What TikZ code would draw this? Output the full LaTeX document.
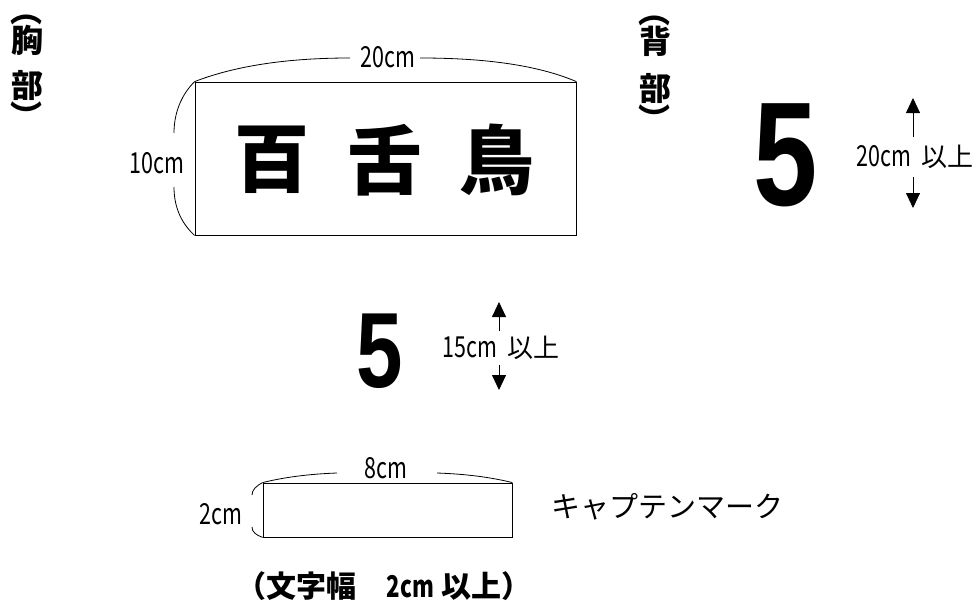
\documentclass[tikz,border=0pt]{standalone}
\usepackage{fontspec}
\usetikzlibrary{arrows.meta}
\newfontfamily\gothic{Noto Sans CJK JP}
\newfontfamily\narrowfont[FakeStretch=0.74]{Noto Sans CJK JP}
\newfontfamily\numfont[FakeStretch=0.78]{Liberation Sans}
\tikzset{
  vchar/.style = {font=\gothic\bfseries\fontsize{32}{32}\selectfont, inner sep=0pt},
  bigchar/.style = {font=\gothic\bfseries\fontsize{75}{75}\selectfont, inner sep=0pt},
  size/.style = {font=\narrowfont\fontsize{29}{31}\selectfont, inner sep=0pt},
  number/.style = {font=\numfont\bfseries\fontsize{#1}{#1}\selectfont, inner sep=0pt},
  label/.style = {font=\gothic\fontsize{29}{31}\selectfont, inner sep=0pt},
  note/.style = {font=\gothic\bfseries\fontsize{30}{32}\selectfont, inner sep=0pt},
  plate/.style = {draw, inner sep=0pt}
}
\tikzset{>={Triangle[length=15pt,width=14pt]}}
\newcommand{\ijou}{{\gothic\fontsize{26}{28}\selectfont 以上}}

\begin{document}
\begin{tikzpicture}[x=1pt,y=-1pt,line width=0.8pt]
    \useasboundingbox (0,0) rectangle (980,602);
    \node[vchar] (chesto) at (26,20) {︵};
    \node[vchar] (chesta) at (27,40) {胸};
    \node[vchar] (chestb) at (27,85) {部};
    \node[vchar] (chestc) at (26,115) {︶};
    \node[vchar] (backo) at (654,21) {︵};
    \node[vchar] (backa) at (655,41) {背};
    \node[vchar] (backb) at (655,88) {部};
    \node[vchar] (backc) at (654,118) {︶};

    \node[plate, minimum width=381pt, minimum height=153pt] (chest) at (385.5,158.5) {};
    \foreach \ch/\x [count=\i] in {百/272,舌/385,鳥/497}
        \node[bigchar] (name\i) at (\x,160) {\ch};
    \node[size] (w20) at (388,57) {20cm};
    \node[size] (h10) at (157,163) {10cm};
    \coordinate (w20l) at (350,58);
    \coordinate (w20r) at (420,58);
    \coordinate (h10t) at (174,133);
    \coordinate (h10b) at (174,187);
    \draw (chest.north west) .. controls (240,64) and (295,58) .. (w20l);
    \draw (w20r) .. controls (480,58) and (535,64) .. (chest.north east);
    \draw (chest.north west) .. controls (182,94) and (174,112) .. (h10t);
    \draw (h10b) .. controls (174,208) and (182,224) .. (chest.south west);

    \node[number=148] (back5) at (785.5,155.5) {5};
    \node[size, inner ysep=8pt] (backlbl) at (915,157) {20cm\hspace{10pt}\ijou};
    \coordinate (backtop) at (913,98);
    \coordinate (backbot) at (913,208);
    \draw[->] (backlbl.north -| backtop) -- (backtop);
    \draw[->] (backlbl.south -| backbot) -- (backbot);

    \node[number=107] (front5) at (380,351) {5};
    \node[size, inner ysep=5pt] (frontlbl) at (501,348) {15cm\hspace{10pt}\ijou};
    \coordinate (fronttop) at (499,302);
    \coordinate (frontbot) at (499,390);
    \draw[->] (frontlbl.north -| fronttop) -- (fronttop);
    \draw[->] (frontlbl.south -| frontbot) -- (frontbot);

    \node[plate, minimum width=249pt, minimum height=54pt] (captain) at (387.5,510) {};
    \node[size] (w8) at (386,468) {8cm};
    \node[size] (h2) at (221,514) {2cm};
    \coordinate (w8l) at (337,473);
    \coordinate (w8r) at (437,473);
    \coordinate (h2t) at (252,495);
    \coordinate (h2b) at (252,527);
    \draw (captain.north west) .. controls (285,477) and (310,474) .. (w8l);
    \draw (w8r) .. controls (465,474) and (490,477) .. (captain.north east);
    \draw (captain.north west) .. controls (256,486) and (252,490) .. (h2t);
    \draw (h2b) .. controls (252,532) and (256,535) .. (captain.south west);
    \node[label] (mark) at (667.5,507) {キャプテンマーク};
    \node[note] (width) at (384,586) {（文字幅　{\narrowfont\bfseries 2cm} 以上）};
\end{tikzpicture}
\end{document}
